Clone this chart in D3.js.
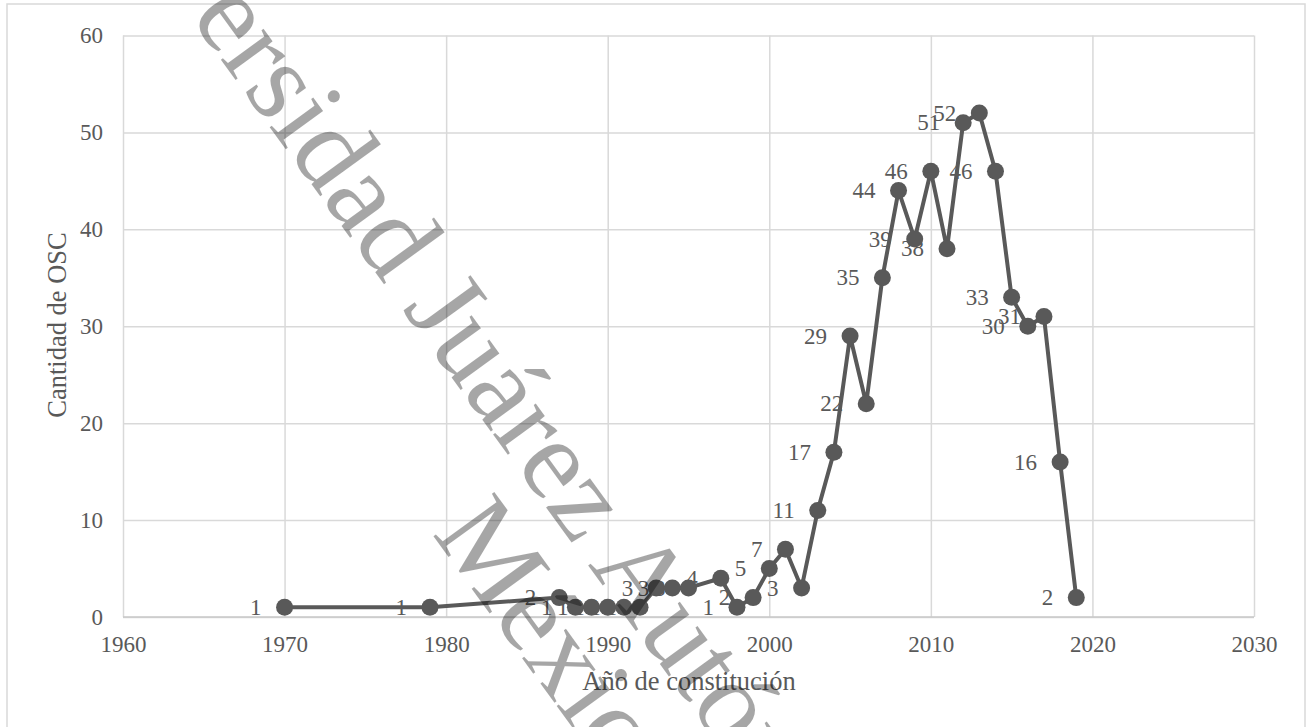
<!DOCTYPE html>
<html>
<head>
<meta charset="utf-8">
<script src="https://cdn.jsdelivr.net/npm/d3@7"></script>
<style>
    body { margin: 0; background: #fff; }
    svg { display: block; font-family: "Liberation Serif", "Times New Roman", serif; }
</style>
</head>
<body>
<div id="chart"></div>
<script>
// años de constitución y cantidad de OSC
const years = [1970, 1979, 1987, 1988, 1989, 1990, 1991, 1992, 1993, 1994, 1995, 1997, 1998, 1999,
    2000, 2001, 2002, 2003, 2004, 2005, 2006, 2007, 2008, 2009, 2010, 2011, 2012, 2013, 2014,
    2015, 2016, 2017, 2018, 2019]
const counts = [1, 1, 2, 1, 1, 1, 1, 1, 3, 3, 3, 4, 1, 2,
    5, 7, 3, 11, 17, 29, 22, 35, 44, 39, 46, 38, 51, 52, 46,
    33, 30, 31, 16, 2]

const xTicks = [1960, 1970, 1980, 1990, 2000, 2010, 2020, 2030]
const yTicks = [0, 10, 20, 30, 40, 50, 60]

const xTitle = 'Año de constitución'
const yTitle = 'Cantidad de OSC'
const watermarkLines = ['Universidad Juárez Autónoma de Tabasco', 'México']

document.addEventListener("DOMContentLoaded", function() {

    const width = 1308
    const height = 727
    const left = 123, right = 1254, top = 35.5, bottom = 617
    const textColor = '#595959'
    const gridColor = '#d9d9d9'

    const svg = d3.select('#chart').append('svg')
        .attr('width', width)
        .attr('height', height)

    // outer frame
    svg.append('rect')
        .attr('x', 7).attr('y', 4)
        .attr('width', 1298).attr('height', 740)
        .attr('fill', '#fff')
        .attr('stroke', gridColor)
        .attr('stroke-width', 1.5)

    const x = d3.scaleLinear().domain([1960, 2030]).range([left, right])
    const y = d3.scaleLinear().domain([0, 60]).range([bottom, top])

    const yAxis = d3.axisLeft(y)
        .tickValues(yTicks)
        .tickSize(-(right - left))
        .tickSizeOuter(0)
        .tickPadding(20)

    const xAxis = d3.axisBottom(x)
        .tickValues(xTicks)
        .tickFormat(d3.format('d'))
        .tickSize(-(bottom - top))
        .tickSizeOuter(0)
        .tickPadding(19)

    svg.append('g')
        .attr('transform', `translate(${left},0)`)
        .call(yAxis)

    const gx = svg.append('g')
        .attr('transform', `translate(0,${bottom})`)
        .call(xAxis)

    svg.selectAll('.domain').remove()
    svg.selectAll('.tick line')
        .attr('stroke', gridColor)
        .attr('stroke-width', 1.5)
    svg.selectAll('.tick text')
        .attr('fill', textColor)
        .style('font-size', '23px')
        .style('font-family', '"Liberation Serif", serif')

    // bottom axis line a bit stronger
    gx.append('line')
        .attr('x1', left).attr('x2', right)
        .attr('stroke', '#c8c8c8')
        .attr('stroke-width', 1.5)

    const line = d3.line()
        .x((d, i) => x(years[i]))
        .y(d => y(d))

    svg.append('path')
        .datum(counts)
        .attr('d', line)
        .attr('fill', 'none')
        .attr('stroke', textColor)
        .attr('stroke-width', 4)
        .attr('stroke-linejoin', 'round')

    svg.append('g')
        .selectAll('circle')
        .data(counts)
        .enter().append('circle')
            .attr('cx', (d, i) => x(years[i]))
            .attr('cy', d => y(d))
            .attr('r', 8.5)
            .attr('fill', textColor)

    // data labels, Excel "left" position
    svg.append('g')
        .selectAll('text')
        .data(counts)
        .enter().append('text')
            .attr('x', (d, i) => x(years[i]) - 23)
            .attr('y', d => y(d))
            .attr('dy', '0.33em')
            .attr('text-anchor', 'end')
            .attr('fill', textColor)
            .style('font-size', '23px')
            .text(d => d)

    svg.append('text')
        .attr('x', 689)
        .attr('y', 690)
        .attr('text-anchor', 'middle')
        .attr('fill', textColor)
        .style('font-size', '26.5px')
        .text(xTitle)

    svg.append('text')
        .attr('transform', `translate(66,325) rotate(-90)`)
        .attr('text-anchor', 'middle')
        .attr('fill', textColor)
        .style('font-size', '26.5px')
        .text(yTitle)

    // watermark on top
    const wm = svg.append('g')
        .attr('transform', 'translate(622,612) rotate(54)')
        .style('pointer-events', 'none')

    wm.selectAll('text')
        .data(watermarkLines)
        .enter().append('text')
            .attr('x', 0)
            .attr('y', (d, i) => i * 108)
            .attr('text-anchor', 'middle')
            .attr('fill', '#000')
            .attr('fill-opacity', 0.35)
            .style('font-size', '115px')
            .text(d => d)
});
</script>
</body>
</html>
